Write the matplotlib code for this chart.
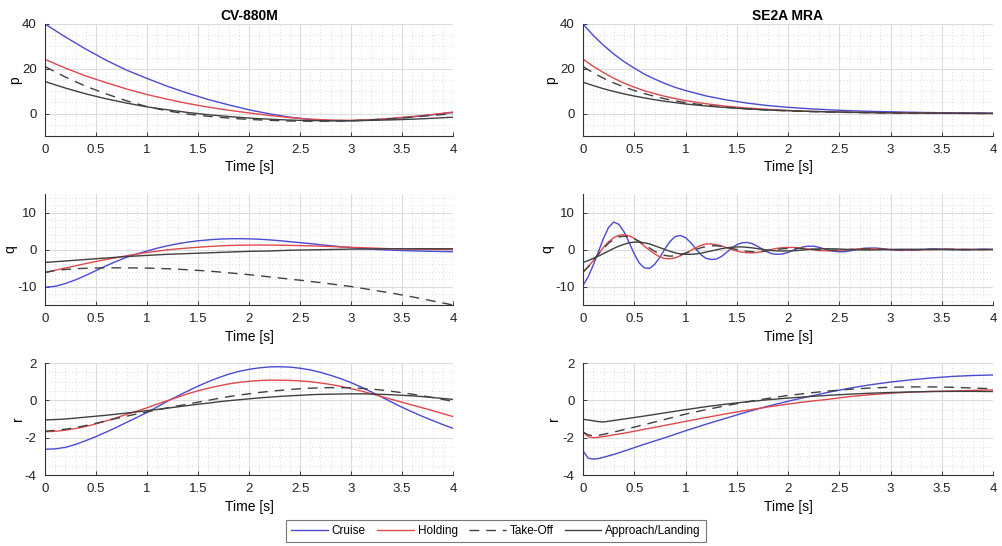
import numpy as np
import matplotlib
matplotlib.use("Agg")
import matplotlib.pyplot as plt
from matplotlib.ticker import MultipleLocator

plt.rcParams['font.family'] = ['Liberation Sans', 'DejaVu Sans']

# ---------------- data ----------------
titles = ["CV-880M", "SE2A MRA"]
series_names = ["Cruise", "Holding", "Take-Off", "Approach/Landing"]
ylabels = ["p", "q", "r"]

t_coarse = [0.0, 0.2, 0.4, 0.6, 0.8, 1.0, 1.2, 1.4, 1.6, 1.8, 2.0,
            2.2, 2.4, 2.6, 2.8, 3.0, 3.2, 3.4, 3.6, 3.8, 4.0]
t_tenth = [0.0, 0.1, 0.2, 0.3, 0.4, 0.5, 0.6, 0.7, 0.8, 0.9, 1.0,
           1.1, 1.2, 1.3, 1.4, 1.5, 1.6, 1.7, 1.8, 1.9, 2.0,
           2.1, 2.2, 2.3, 2.4, 2.5, 2.6, 2.7, 2.8, 2.9, 3.0,
           3.1, 3.2, 3.3, 3.4, 3.5, 3.6, 3.7, 3.8, 3.9, 4.0]
t_p_se = [0.0, 0.1, 0.2, 0.3, 0.4, 0.5, 0.6, 0.7, 0.8, 0.9, 1.0,
          1.2, 1.4, 1.6, 1.8, 2.0, 2.2, 2.4, 2.6, 2.8, 3.0,
          3.2, 3.4, 3.6, 3.8, 4.0]

# CV-880M  p
cv_p_cruise = [40, 34.2, 28.8, 23.8, 19.4, 15.7, 12.2, 9.1, 6.3, 3.9, 1.7,
               -0.1, -1.6, -2.6, -3.1, -3.2, -2.9, -2.3, -1.5, -0.5, 0.5]
cv_p_holding = [24.2, 20.3, 16.8, 13.8, 11.0, 8.5, 6.4, 4.5, 2.9, 1.5, 0.3,
                -0.8, -1.8, -2.5, -2.9, -3.0, -2.7, -2.1, -1.3, -0.4, 0.7]
cv_p_takeoff = [21, 16.3, 12.2, 8.8, 5.7, 3.1, 1.2, -0.2, -1.2, -2.0, -2.6,
                -3.0, -3.3, -3.4, -3.4, -3.2, -2.8, -2.3, -1.6, -0.8, 0.0]
cv_p_approach = [14.3, 11.4, 8.8, 6.6, 4.7, 3.0, 1.7, 0.5, -0.5, -1.3, -2.0,
                 -2.5, -2.9, -3.1, -3.2, -3.2, -3.0, -2.8, -2.5, -2.1, -1.6]

# SE2A MRA  p
se_p_cruise = [40, 34.9, 30.5, 26.6, 23.2, 20.3, 17.6, 15.4, 13.4, 11.7, 10.3,
               7.9, 6.1, 4.7, 3.6, 2.8, 2.2, 1.7, 1.3, 1.0, 0.8,
               0.6, 0.45, 0.35, 0.3, 0.2]
se_p_holding = [24.3, 21.1, 18.3, 15.8, 13.6, 11.8, 10.2, 8.9, 7.7, 6.7, 5.8,
                4.4, 3.3, 2.5, 1.9, 1.4, 1.05, 0.8, 0.6, 0.45, 0.33,
                0.25, 0.18, 0.13, 0.09, 0.06]
se_p_takeoff = [21, 18.2, 15.8, 13.7, 11.9, 10.3, 8.9, 7.7, 6.6, 5.7, 4.9,
                3.7, 2.8, 2.1, 1.6, 1.2, 0.9, 0.7, 0.5, 0.38, 0.28,
                0.2, 0.15, 0.11, 0.08, 0.05]
se_p_approach = [14, 12.5, 11.1, 9.9, 8.8, 7.85, 7.0, 6.2, 5.5, 4.9, 4.3,
                 3.4, 2.7, 2.1, 1.6, 1.3, 1.0, 0.8, 0.6, 0.46, 0.35,
                 0.27, 0.2, 0.15, 0.1, 0.08]

# CV-880M  q
cv_q_cruise = [-10.2, -9.95, -9.2, -8.2, -7.0, -5.7, -4.4, -3.2, -2.1, -1.2, -0.4,
               0.35, 1.0, 1.55, 2.0, 2.35, 2.6, 2.8, 2.9, 2.92, 2.88,
               2.78, 2.6, 2.38, 2.12, 1.85, 1.58, 1.3, 1.02, 0.75, 0.5,
               0.28, 0.1, -0.05, -0.18, -0.28, -0.36, -0.43, -0.5, -0.55, -0.6]
cv_q_holding = [-6.2, -5.6, -5.0, -4.4, -3.8, -3.25, -2.7, -2.2, -1.7, -1.25, -0.8,
                -0.45, -0.1, 0.17, 0.4, 0.6, 0.8, 0.95, 1.08, 1.15, 1.2,
                1.22, 1.2, 1.16, 1.1, 1.05, 0.98, 0.9, 0.8, 0.7, 0.6,
                0.5, 0.4, 0.3, 0.2, 0.14, 0.1, 0.07, 0.05, 0.02, 0.0]
cv_q_takeoff = [-6.2, -5.7, -5.4, -5.2, -5.08, -5.0, -4.96, -4.95, -4.96, -4.98, -5.02,
                -5.1, -5.2, -5.33, -5.48, -5.65, -5.82, -6.05, -6.3, -6.55, -6.8,
                -7.1, -7.4, -7.7, -8.0, -8.3, -8.62, -8.95, -9.3, -9.65, -10.0,
                -10.45, -10.9, -11.35, -11.8, -12.3, -12.8, -13.35, -13.9, -14.45, -15.0]
cv_q_approach = [-3.5, -3.3, -3.1, -2.9, -2.7, -2.5, -2.3, -2.1, -1.9, -1.75, -1.6,
                 -1.45, -1.3, -1.2, -1.1, -1.0, -0.9, -0.8, -0.7, -0.6, -0.5,
                 -0.45, -0.4, -0.3, -0.2, -0.15, -0.1, -0.05, 0.0, 0.05, 0.1,
                 0.12, 0.15, 0.18, 0.2, 0.2, 0.2, 0.2, 0.2, 0.2, 0.2]

# CV-880M  r
cv_r_cruise = [-2.62, -2.6, -2.52, -2.36, -2.16, -1.94, -1.7, -1.45, -1.18, -0.92, -0.65,
               -0.35, -0.05, 0.23, 0.5, 0.76, 1.0, 1.21, 1.4, 1.55, 1.66,
               1.74, 1.79, 1.8, 1.78, 1.72, 1.63, 1.5, 1.34, 1.16, 0.95,
               0.71, 0.45, 0.18, -0.1, -0.37, -0.62, -0.86, -1.08, -1.3, -1.5]
cv_r_holding = [-1.68, -1.66, -1.6, -1.51, -1.4, -1.26, -1.1, -0.93, -0.75, -0.58, -0.4,
                -0.2, -0.02, 0.17, 0.35, 0.51, 0.65, 0.77, 0.88, 0.96, 1.02,
                1.06, 1.08, 1.08, 1.07, 1.04, 1.0, 0.93, 0.85, 0.75, 0.63,
                0.5, 0.35, 0.2, 0.05, -0.1, -0.25, -0.4, -0.55, -0.71, -0.87]
cv_r_takeoff = [-1.65, -1.61, -1.55, -1.46, -1.35, -1.23, -1.1, -0.97, -0.85, -0.73, -0.62,
                -0.51, -0.4, -0.3, -0.2, -0.1, 0.0, 0.1, 0.2, 0.28, 0.35,
                0.42, 0.48, 0.53, 0.58, 0.62, 0.65, 0.67, 0.68, 0.68, 0.67,
                0.64, 0.6, 0.55, 0.48, 0.41, 0.33, 0.24, 0.15, 0.05, -0.05]
cv_r_approach = [-1.05, -1.03, -1.0, -0.95, -0.9, -0.85, -0.8, -0.74, -0.68, -0.62, -0.55,
                 -0.49, -0.42, -0.35, -0.28, -0.21, -0.15, -0.08, -0.02, 0.03, 0.08,
                 0.13, 0.17, 0.21, 0.24, 0.27, 0.3, 0.32, 0.33, 0.34, 0.35,
                 0.35, 0.34, 0.32, 0.3, 0.27, 0.24, 0.2, 0.15, 0.1, 0.05]

# SE2A MRA  q (oscillatory, finer time grid)
t_q_fine = [0.0, 0.05, 0.1, 0.15, 0.2, 0.25, 0.3, 0.35, 0.4, 0.45, 0.5,
            0.55, 0.6, 0.65, 0.7, 0.75, 0.8, 0.85, 0.9, 0.95, 1.0,
            1.05, 1.1, 1.15, 1.2, 1.25, 1.3, 1.35, 1.4, 1.45, 1.5,
            1.55, 1.6, 1.65, 1.7, 1.75, 1.8, 1.85, 1.9, 1.95, 2.0,
            2.05, 2.1, 2.15, 2.2, 2.25, 2.3, 2.35, 2.4, 2.45, 2.5,
            2.55, 2.6, 2.65, 2.7, 2.75, 2.8, 2.85, 2.9, 2.95, 3.0,
            3.1, 3.2, 3.3, 3.4, 3.5, 3.6, 3.7, 3.8, 3.9, 4.0]
se_q_cruise = [-9.7, -7.4, -4.2, -0.6, 3.0, 6.0, 7.4, 6.8, 4.8, 1.9, -1.2,
               -3.7, -5.0, -5.1, -4.0, -2.1, 0.2, 2.2, 3.5, 3.8, 3.2,
               1.9, 0.2, -1.4, -2.4, -2.7, -2.6, -1.9, -0.8, 0.4, 1.3,
               1.8, 1.9, 1.6, 0.9, 0.1, -0.7, -1.2, -1.3, -1.2, -0.8,
               -0.2, 0.3, 0.7, 0.9, 0.9, 0.6, 0.2, -0.2, -0.5, -0.6,
               -0.6, -0.4, -0.1, 0.2, 0.35, 0.4, 0.4, 0.3, 0.1, -0.1,
               -0.25, -0.2, 0.0, 0.15, 0.15, 0.0, -0.1, -0.05, 0.05, 0.05]
se_q_holding = [-6.1, -4.7, -3.0, -1.2, 0.6, 2.1, 3.2, 3.85, 4.0, 3.7, 3.0,
                2.0, 0.9, -0.2, -1.2, -2.0, -2.45, -2.5, -2.25, -1.7, -1.0,
                -0.3, 0.5, 1.1, 1.5, 1.5, 1.3, 1.0, 0.5, 0.0, -0.4,
                -0.7, -0.9, -0.9, -0.8, -0.55, -0.25, 0.1, 0.35, 0.5, 0.55,
                0.55, 0.45, 0.3, 0.1, -0.1, -0.25, -0.33, -0.35, -0.33, -0.25,
                -0.12, 0.0, 0.1, 0.17, 0.2, 0.2, 0.17, 0.12, 0.05, -0.02,
                -0.1, -0.12, -0.08, 0.0, 0.06, 0.07, 0.04, 0.0, -0.03, -0.03]
se_q_takeoff = [-6.1, -4.7, -3.0, -1.3, 0.3, 1.7, 2.7, 3.4, 3.6, 3.4, 2.9,
                2.2, 1.3, 0.4, -0.5, -1.2, -1.6, -1.8, -1.7, -1.4, -1.0,
                -0.5, 0.0, 0.45, 0.8, 1.0, 1.0, 0.85, 0.6, 0.3, 0.0,
                -0.3, -0.5, -0.6, -0.6, -0.5, -0.35, -0.15, 0.05, 0.2, 0.3,
                0.35, 0.33, 0.25, 0.15, 0.03, -0.08, -0.16, -0.2, -0.2, -0.16,
                -0.1, -0.02, 0.05, 0.1, 0.12, 0.12, 0.1, 0.06, 0.02, -0.02,
                -0.07, -0.06, -0.02, 0.03, 0.04, 0.02, -0.01, -0.02, -0.01, 0.0]
se_q_approach = [-3.5, -3.0, -2.4, -1.8, -1.1, -0.4, 0.3, 0.9, 1.4, 1.8, 2.0,
                 2.0, 1.8, 1.5, 1.0, 0.5, 0.0, -0.5, -0.9, -1.2, -1.3,
                 -1.3, -1.2, -1.0, -0.7, -0.4, -0.1, 0.2, 0.45, 0.6, 0.7,
                 0.7, 0.6, 0.45, 0.25, 0.05, -0.15, -0.3, -0.38, -0.4, -0.4,
                 -0.35, -0.25, -0.12, 0.0, 0.1, 0.17, 0.2, 0.2, 0.18, 0.13,
                 0.06, 0.0, -0.06, -0.1, -0.12, -0.12, -0.1, -0.06, -0.02, 0.02,
                 0.06, 0.06, 0.03, 0.0, -0.03, -0.03, -0.01, 0.01, 0.01, 0.0]

# SE2A MRA  r (finer start)
t_r_se = [0.0, 0.05, 0.1, 0.15, 0.2, 0.3, 0.4, 0.6, 0.8, 1.0, 1.2, 1.4, 1.6,
          1.8, 2.0, 2.2, 2.4, 2.6, 2.8, 3.0, 3.2, 3.4, 3.6, 3.8, 4.0]
se_r_cruise = [-2.7, -3.1, -3.15, -3.12, -3.05, -2.9, -2.72, -2.35, -2.0, -1.63, -1.28,
               -0.95, -0.62, -0.32, -0.05, 0.2, 0.44, 0.65, 0.83, 0.98, 1.1,
               1.2, 1.28, 1.33, 1.36]
se_r_holding = [-1.7, -1.95, -2.0, -1.98, -1.94, -1.85, -1.76, -1.55, -1.34, -1.13, -0.92,
                -0.72, -0.53, -0.36, -0.2, -0.06, 0.06, 0.2, 0.3, 0.38, 0.44,
                0.48, 0.5, 0.53, 0.56]
se_r_takeoff = [-1.7, -1.85, -1.9, -1.88, -1.82, -1.7, -1.57, -1.3, -1.02, -0.74, -0.5,
                -0.28, -0.08, 0.1, 0.26, 0.39, 0.5, 0.59, 0.66, 0.7, 0.72,
                0.72, 0.7, 0.66, 0.62]
se_r_approach = [-1.02, -1.05, -1.1, -1.14, -1.16, -1.08, -1.0, -0.84, -0.67, -0.5, -0.34,
                 -0.2, -0.08, 0.03, 0.12, 0.2, 0.27, 0.33, 0.38, 0.42, 0.45,
                 0.47, 0.48, 0.48, 0.47]

panels = [
    [(t_coarse, [cv_p_cruise, cv_p_holding, cv_p_takeoff, cv_p_approach]),
     (t_p_se, [se_p_cruise, se_p_holding, se_p_takeoff, se_p_approach])],
    [(t_tenth, [cv_q_cruise, cv_q_holding, cv_q_takeoff, cv_q_approach]),
     (t_q_fine, [se_q_cruise, se_q_holding, se_q_takeoff, se_q_approach])],
    [(t_tenth, [cv_r_cruise, cv_r_holding, cv_r_takeoff, cv_r_approach]),
     (t_r_se, [se_r_cruise, se_r_holding, se_r_takeoff, se_r_approach])],
]

ylims = [(-10, 40), (-15, 15), (-4, 2)]
ymajor = [20, 10, 2]
yminor = [5, 2, 0.5]

styles = [dict(color='#4a4ad2', ls='-'),
          dict(color='#e0484c', ls='-'),
          dict(color='#404040', ls=(0, (7, 5))),
          dict(color='#404040', ls='-')]

# ---------------- figure ----------------
W, H = 1002, 546
fig = plt.figure(figsize=(W / 100, H / 100), dpi=100)

col_x = [(45, 453), (583, 993)]
row_y = [(24, 136), (194, 305), (363, 475)]

handles = None
for r in range(3):
    for c in range(2):
        x0, x1 = col_x[c]
        y0, y1 = row_y[r]
        ax = fig.add_axes([x0 / W, 1 - y1 / H, (x1 - x0) / W, (y1 - y0) / H])
        tt, ys = panels[r][c]
        hs = []
        for yv, st in zip(ys, styles):
            h, = ax.plot(tt, yv, lw=1.0, **st)
            hs.append(h)
        handles = hs
        ax.set_xlim(0, 4)
        ax.set_ylim(*ylims[r])
        ax.xaxis.set_major_locator(MultipleLocator(0.5))
        ax.xaxis.set_minor_locator(MultipleLocator(0.1))
        ax.yaxis.set_major_locator(MultipleLocator(ymajor[r]))
        ax.yaxis.set_minor_locator(MultipleLocator(yminor[r]))
        ax.xaxis.set_major_formatter(plt.FuncFormatter(lambda v, p: f"{v:g}"))
        ax.yaxis.set_major_formatter(plt.FuncFormatter(lambda v, p: f"{v:g}"))
        ax.grid(True, which='major', color='#dcdcdc', lw=0.8, ls='-')
        ax.grid(True, which='minor', color='#cfcfcf', lw=0.6, ls=(0, (1, 3)))
        ax.set_axisbelow(True)
        for s in ['top', 'right']:
            ax.spines[s].set_visible(False)
        for s in ['left', 'bottom']:
            ax.spines[s].set_color('#333333')
            ax.spines[s].set_linewidth(0.8)
        ax.tick_params(which='major', direction='in', length=3, width=0.6,
                       labelsize=9.5, colors='#222222', pad=6)
        ax.tick_params(which='minor', length=0)
        ax.set_xlabel("Time [s]", fontsize=10, labelpad=3)
        ax.set_ylabel(ylabels[r], fontsize=10, labelpad=0 if c == 0 else 1)
        if r == 0:
            ax.set_title(titles[c], fontsize=10, fontweight='bold', pad=3)

leg = fig.legend(handles, series_names, loc='center', ncol=4,
                 bbox_to_anchor=(496 / W, 1 - 531 / H), fontsize=8.5,
                 frameon=True, fancybox=False, edgecolor='#555555',
                 handlelength=3.1, handletextpad=0.35, columnspacing=0.95,
                 borderpad=0.45)
leg.get_frame().set_linewidth(0.8)

fig.savefig("out.png", dpi=100, facecolor='white')
